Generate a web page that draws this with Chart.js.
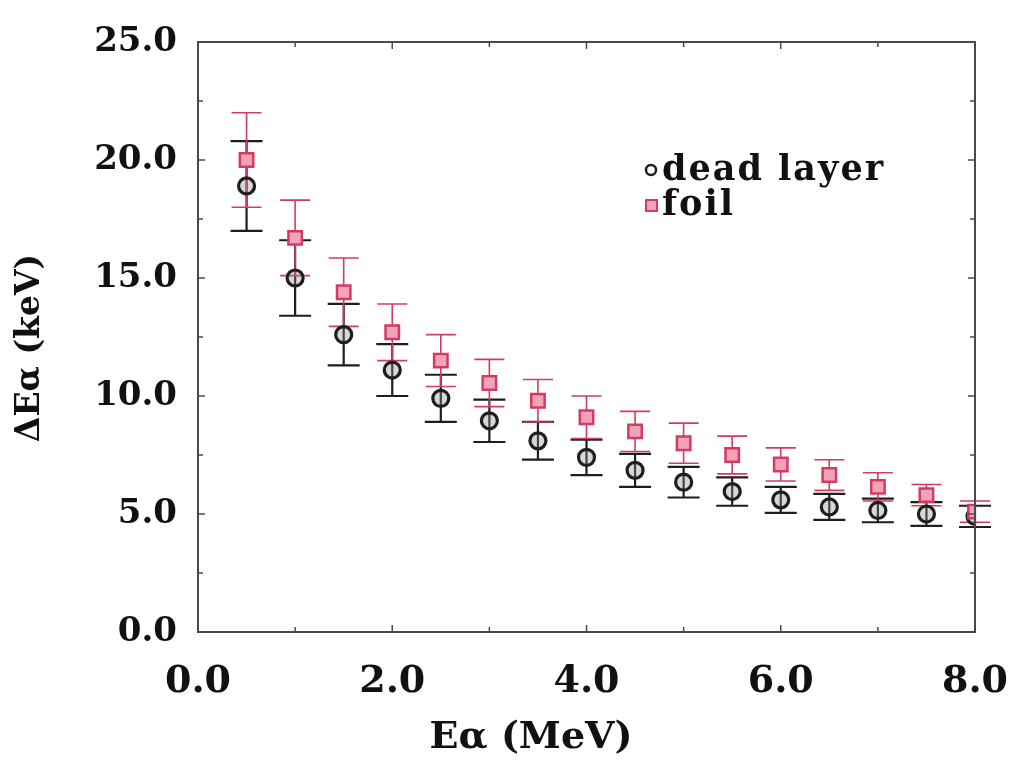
<!DOCTYPE html>
<html>
<head>
<meta charset="utf-8">
<script src="https://cdn.jsdelivr.net/npm/chart.js@4.4.1/dist/chart.umd.min.js"></script>
<style>
html,body{margin:0;padding:0;background:#fff;}
#wrap{width:1017px;height:768px;position:relative;}
</style>
</head>
<body>
<div id="wrap"><canvas id="c"></canvas></div>
<script>
// ---- data ----
const energies      = [0.5, 1.0, 1.5, 2.0, 2.5, 3.0, 3.5, 4.0, 4.5, 5.0, 5.5, 6.0, 6.5, 7.0, 7.5, 8.0];
const deadLayer     = [18.9, 15.0, 12.6, 11.1, 9.9, 8.95, 8.1, 7.4, 6.85, 6.35, 5.95, 5.6, 5.3, 5.15, 5.0, 4.9];
const deadLayerErr  = [1.9, 1.6, 1.3, 1.1, 1.0, 0.9, 0.8, 0.75, 0.7, 0.65, 0.6, 0.55, 0.55, 0.5, 0.5, 0.45];
const foil          = [20.0, 16.7, 14.4, 12.7, 11.5, 10.55, 9.8, 9.1, 8.5, 8.0, 7.5, 7.1, 6.65, 6.15, 5.8, 5.1];
const foilErr       = [2.0, 1.6, 1.45, 1.2, 1.1, 1.0, 0.9, 0.9, 0.85, 0.85, 0.8, 0.7, 0.65, 0.6, 0.45, 0.45];
const seriesNames   = ['dead layer', 'foil'];
const xTickValues   = [0, 2, 4, 6, 8];
const xTickLabels   = ['0.0', '2.0', '4.0', '6.0', '8.0'];
const yTickValues   = [0, 5, 10, 15, 20, 25];
const yTickLabels   = ['0.0', '5.0', '10.0', '15.0', '20.0', '25.0'];
const xTitle        = 'E\u03B1 (MeV)';
const yTitle        = '\u0394E\u03B1 (keV)';

const BLACK = '#1e1e1e';
const RED   = '#d23c62';
const PINK  = '#f3a3b8';
const SERIF = '"DejaVu Serif", "Liberation Serif", serif';

function pts(xs, ys){ return xs.map((x,i)=>({x:x, y:ys[i]})); }

const errorBarPlugin = {
  id: 'errorBars',
  beforeDatasetsDraw(chart){
    const ctx = chart.ctx, xs = chart.scales.x, ys = chart.scales.y;
    chart.data.datasets.forEach(ds => {
      const err = ds.errors;
      ctx.save();
      ctx.strokeStyle = ds.errColor;
      ctx.lineWidth = ds.errWidth;
      ds.data.forEach((p, j) => {
        const x  = xs.getPixelForValue(p.x);
        const yt = ys.getPixelForValue(p.y + err[j]);
        const yb = ys.getPixelForValue(p.y - err[j]);
        const hw = ds.capHalf;
        ctx.beginPath();
        ctx.moveTo(x, yt); ctx.lineTo(x, yb);
        ctx.moveTo(x - hw, yt); ctx.lineTo(x + hw, yt);
        ctx.moveTo(x - hw, yb); ctx.lineTo(x + hw, yb);
        ctx.stroke();
      });
      ctx.restore();
    });
  }
};

const framePlugin = {
  id: 'frameAndText',
  afterDraw(chart){
    const ctx = chart.ctx, a = chart.chartArea, xs = chart.scales.x, ys = chart.scales.y;
    ctx.save();
    // frame
    ctx.strokeStyle = '#4a4a4a';
    ctx.lineWidth = 2;
    ctx.strokeRect(a.left, a.top, a.right - a.left, a.bottom - a.top);
    // inward ticks
    ctx.lineWidth = 1.5;
    ctx.beginPath();
    for (let v = 0; v <= 8.0001; v += 1) {
      const x = xs.getPixelForValue(v);
      const L = (v % 2 === 0) ? 7 : 5;
      ctx.moveTo(x, a.bottom); ctx.lineTo(x, a.bottom - L);
      ctx.moveTo(x, a.top); ctx.lineTo(x, a.top + L);
    }
    for (let v = 0; v <= 25.0001; v += 2.5) {
      const y = ys.getPixelForValue(v);
      const L = (v % 5 === 0) ? 7 : 5;
      ctx.moveTo(a.left, y); ctx.lineTo(a.left + L, y);
      ctx.moveTo(a.right, y); ctx.lineTo(a.right - L, y);
    }
    ctx.stroke();

    // axis titles
    ctx.fillStyle = '#111';
    ctx.font = 'bold 38px ' + SERIF;
    ctx.textAlign = 'center';
    ctx.textBaseline = 'middle';
    ctx.fillText(xTitle, 531, 738);
    ctx.save();
    ctx.translate(30, 348);
    ctx.rotate(-Math.PI / 2);
    ctx.font = 'bold 33px ' + SERIF;
    ctx.fillText(yTitle, 0, 0);
    ctx.restore();

    // legend
    const ds = chart.data.datasets;
    ctx.font = 'bold 35px ' + SERIF;
    ctx.letterSpacing = '2px';
    ctx.textAlign = 'left';
    ctx.textBaseline = 'alphabetic';
    ctx.beginPath();
    ctx.arc(651, 170, 5, 0, Math.PI * 2);
    ctx.lineWidth = 2.5;
    ctx.strokeStyle = ds[0].borderColor;
    ctx.stroke();
    ctx.fillStyle = '#111';
    ctx.fillText(ds[0].label, 662, 180);
    ctx.fillStyle = ds[1].backgroundColor;
    ctx.fillRect(646, 200, 11, 11);
    ctx.lineWidth = 2;
    ctx.strokeStyle = ds[1].borderColor;
    ctx.strokeRect(646, 200, 11, 11);
    ctx.fillStyle = '#111';
    ctx.fillText(ds[1].label, 662, 215);
    ctx.restore();
  }
};

new Chart(document.getElementById('c'), {
  type: 'scatter',
  data: {
    datasets: [
      {
        label: seriesNames[0],
        data: pts(energies, deadLayer),
        errors: deadLayerErr,
        errColor: BLACK, errWidth: 2.2, capHalf: 16,
        pointStyle: 'circle',
        pointRadius: 8,
        pointBorderWidth: 3.2,
        borderColor: BLACK,
        backgroundColor: 'rgba(140,140,140,0.35)',
        order: 2
      },
      {
        label: seriesNames[1],
        data: pts(energies, foil),
        errors: foilErr,
        errColor: RED, errWidth: 1.6, capHalf: 15,
        pointStyle: 'rect',
        pointRadius: 9.5,
        pointBorderWidth: 2.5,
        borderColor: RED,
        backgroundColor: PINK,
        order: 1
      }
    ]
  },
  options: {
    responsive: true,
    maintainAspectRatio: false,
    animation: false,
    devicePixelRatio: 1,
    layout: { padding: { top: 42, right: 42, left: 0, bottom: 0 } },
    plugins: {
      legend: { display: false },
      tooltip: { enabled: false }
    },
    scales: {
      x: {
        type: 'linear',
        min: 0, max: 8,
        border: { display: false },
        grid: { display: false, drawTicks: true, tickLength: 25 },
        afterBuildTicks(s){ s.ticks = xTickValues.map(v => ({ value: v })); },
        afterFit(s){ s.height = 136; },
        ticks: {
          padding: 2,
          color: '#111',
          font: { family: SERIF, size: 38, weight: 'bold' },
          callback: (v, i) => xTickLabels[i]
        }
      },
      y: {
        type: 'linear',
        min: 0, max: 25,
        border: { display: false },
        grid: { display: false, drawTicks: true, tickLength: 19 },
        afterBuildTicks(s){ s.ticks = yTickValues.map(v => ({ value: v })); },
        afterFit(s){ s.width = 198; },
        ticks: {
          padding: 2,
          color: '#111',
          font: { family: SERIF, size: 34, weight: 'bold' },
          callback: (v, i) => yTickLabels[i]
        }
      }
    }
  },
  plugins: [errorBarPlugin, framePlugin]
});
</script>
</body>
</html>
